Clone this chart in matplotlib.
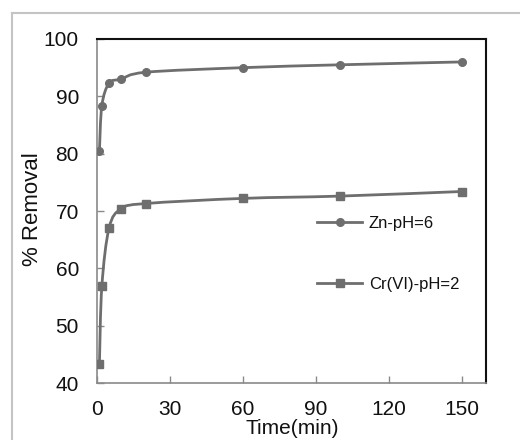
import matplotlib
matplotlib.use("Agg")
import matplotlib.pyplot as plt
import numpy as np
from matplotlib.path import Path
from matplotlib.patches import PathPatch
from matplotlib.lines import Line2D

plt.rcParams['font.family'] = ['Liberation Sans', 'DejaVu Sans']

time_min = [1, 2, 5, 10, 20, 60, 100, 150]
zn_removal = [80.5, 88.4, 92.3, 93.0, 94.2, 95.0, 95.5, 96.0]
cr_removal = [43.4, 56.9, 67.1, 70.4, 71.3, 72.2, 72.6, 73.4]
series_labels = ["Zn-pH=6", "Cr(VI)-pH=2"]
x_ticks = [0, 30, 60, 90, 120, 150]
y_ticks = [40, 50, 60, 70, 80, 90, 100]

LINE_C = '#6e6e6e'


def smooth_path(xs, ys):
    xs = np.asarray(xs, float)
    ys = np.asarray(ys, float)
    n = len(xs)
    verts = [(xs[0], ys[0])]
    codes = [Path.MOVETO]
    for i in range(n - 1):
        p0 = np.array([xs[max(i - 1, 0)], ys[max(i - 1, 0)]])
        p1 = np.array([xs[i], ys[i]])
        p2 = np.array([xs[i + 1], ys[i + 1]])
        p3 = np.array([xs[min(i + 2, n - 1)], ys[min(i + 2, n - 1)]])
        c1 = p1 + (p2 - p0) / 6.0
        c2 = p2 - (p3 - p1) / 6.0
        verts += [tuple(c1), tuple(c2), tuple(p2)]
        codes += [Path.CURVE4] * 3
    return Path(verts, codes)


fig = plt.figure(figsize=(5.2, 4.4), dpi=100)
ax = fig.add_axes([97 / 520, 1 - 383 / 440, (486 - 97) / 520, (383 - 39) / 440])

for ys, mk in [(zn_removal, 'o'), (cr_removal, 's')]:
    ax.add_patch(PathPatch(smooth_path(time_min, ys), facecolor='none',
                           edgecolor=LINE_C, lw=2.0, zorder=2))
    ax.plot(time_min, ys, linestyle='none', marker=mk, ms=5.5,
            color=LINE_C, zorder=3)

ax.set_xlim(0, 160)
ax.set_ylim(40, 100)
ax.set_xticks(x_ticks)
ax.set_yticks(y_ticks)
ax.tick_params(axis='both', direction='in', length=5, width=1, color='#8a8a8a',
               labelsize=15, labelcolor='#111111')
ax.tick_params(axis='x', pad=12)
ax.tick_params(axis='y', pad=13)
ax.tick_params(axis='x', top=False)
ax.tick_params(axis='y', right=False)

for s in ['left', 'bottom']:
    ax.spines[s].set_color('#8a8a8a')
    ax.spines[s].set_linewidth(1.2)
for s in ['top', 'right']:
    ax.spines[s].set_color('#111111')
    ax.spines[s].set_linewidth(1.5)

ax.set_xlabel('Time(min)', fontsize=15, color='#111111')
ax.set_ylabel('% Removal', fontsize=16, color='#111111')
ax.xaxis.set_label_coords((292 - 97) / 389, (383 - 419) / 344)
ax.yaxis.set_label_coords((43 - 97) / 389, (383 - 209) / 344)

handles = [Line2D([], [], color=LINE_C, lw=2.0, marker='o', ms=5.5),
           Line2D([], [], color=LINE_C, lw=2.0, marker='s', ms=5.5)]
leg = ax.legend(handles, series_labels, loc='upper left',
                bbox_to_anchor=((317 - 97) / 389, (383 - 216) / 344),
                frameon=False, fontsize=12, labelspacing=2.75,
                handlelength=2.7, handletextpad=0.4, borderpad=0, borderaxespad=0)
for t in leg.get_texts():
    t.set_color('#111111')

# outer frame lines (top and left)
fig.add_artist(Line2D([12 / 520, 1], [1 - 13 / 440, 1 - 13 / 440], color='#c4c4c4', lw=1.5,
                      transform=fig.transFigure))
fig.add_artist(Line2D([12 / 520, 12 / 520], [0, 1 - 13 / 440], color='#c4c4c4', lw=1.5,
                      transform=fig.transFigure))

fig.savefig('out.png', dpi=100)
